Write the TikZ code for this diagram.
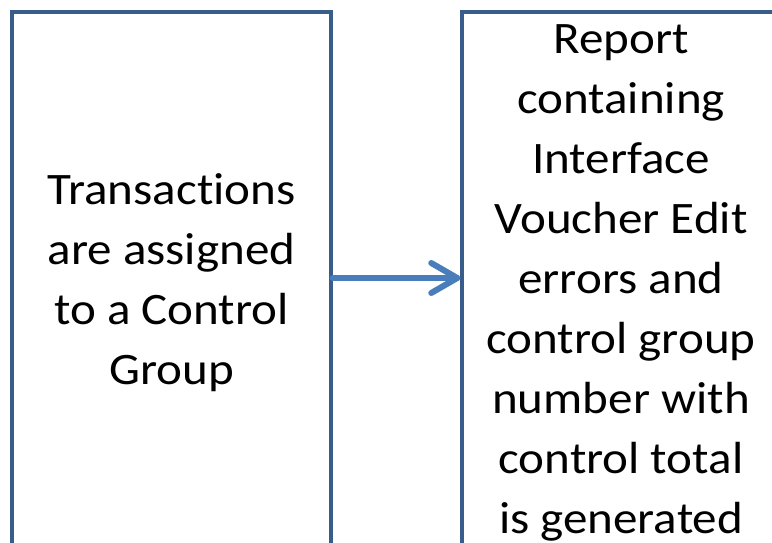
\documentclass[tikz,border=0pt]{standalone}
\usepackage{fontspec}
\setmainfont{Carlito}
\newfontfamily\boxfont[FakeStretch=1.09,Ligatures=NoCommon]{Carlito}
\usetikzlibrary{calc}
\definecolor{boxline}{HTML}{385D8A}
\definecolor{arrowblue}{HTML}{4A7EBB}
\begin{document}
\begin{tikzpicture}[x=1pt,y=-1pt,
  stepbox/.style={draw=boxline, line width=3.5pt, rectangle,
    minimum height=542pt, inner sep=0pt, align=center,
    font=\boxfont\fontsize{45}{60}\selectfont},
  flowline/.style={draw=arrowblue, line width=6pt, line cap=round, line join=round}]
  \useasboundingbox (0,0) rectangle (772,542);
  % process boxes
  \node[stepbox, minimum width=319pt] (assign) at (171.5,283)
    {Transactions\\are assigned\\to a Control\\Group};
  \node[stepbox, minimum width=318pt] (report) at (621,283)
    {Report\\containing\\Interface\\Voucher Edit\\errors and\\control group\\number with\\control total\\is generated};
  % connector with open chevron head, level with the box mid-height
  \coordinate (tip) at ([xshift=-3pt,yshift=5pt]report.west);
  \draw[flowline] ([yshift=5pt]assign.east) -- (tip);
  \draw[flowline] ($(tip)+(-26,-15)$) -- (tip) -- ($(tip)+(-26,15)$);
\end{tikzpicture}
\end{document}
